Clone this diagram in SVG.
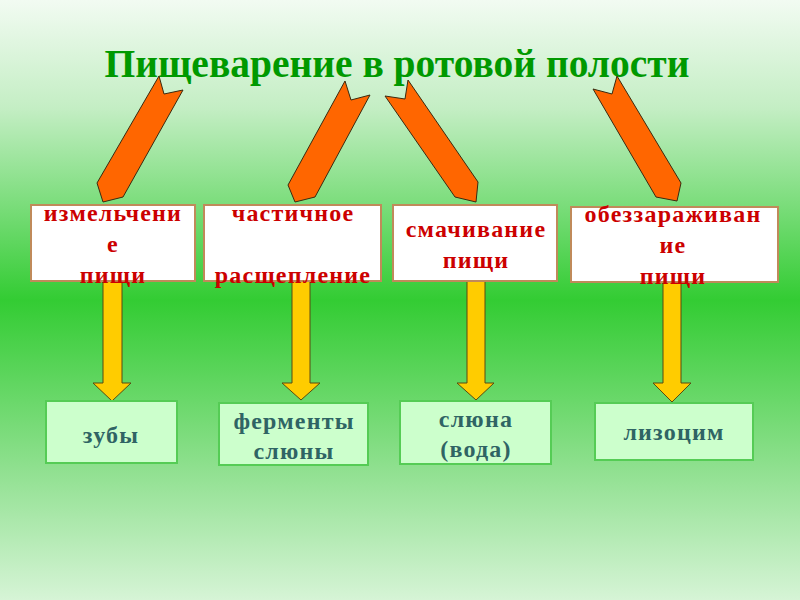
<svg xmlns="http://www.w3.org/2000/svg" width="800" height="600" viewBox="0 0 800 600">
<defs>
<linearGradient id="bg" x1="0" y1="0" x2="0" y2="1">
<stop offset="0" stop-color="#f2fbf2"/>
<stop offset="0.18" stop-color="#c4eec4"/>
<stop offset="0.5" stop-color="#33cc33"/>
<stop offset="0.78" stop-color="#8fe08f"/>
<stop offset="1" stop-color="#d6f4d6"/>
</linearGradient>
<style>
.title{font-family:"Liberation Serif","Times New Roman",serif;font-weight:bold;font-size:39.5px;fill:#009900;text-anchor:middle}
.orange{fill:#ff6600;stroke:#3a2a10;stroke-width:1}
.yellow{fill:#ffcc00;stroke:#5a4a10;stroke-width:1}
.wbox{fill:#ffffff;stroke:#c08a5a;stroke-width:2}
.gbox{fill:#ccffcc;stroke:#55cc55;stroke-width:2}
.rt{font-family:"Liberation Serif","Times New Roman",serif;font-weight:bold;font-size:24px;fill:#cc0000;text-anchor:middle;letter-spacing:1.2px}
.gt{font-family:"Liberation Serif","Times New Roman",serif;font-weight:bold;font-size:24px;fill:#2f6464;text-anchor:middle;letter-spacing:1.2px}
</style>
</defs>
<rect x="0" y="0" width="800" height="600" fill="url(#bg)"/>
<text class="title" x="397" y="77">Пищеварение в ротовой полости</text>

<g id="connectors">
<polygon class="orange" points="159,76 164,94 183,90 123,197 103,202 97,183"/>
<polygon class="orange" points="345,81 351,100 370,95 315,197 295,202 288,185"/>
<polygon class="orange" points="408,80 405,99 385,96 455,197 476,202 478,182"/>
<polygon class="orange" points="617,76 612,94 593,89 656,197 677,201 681,183"/>
<polygon class="yellow" points="103,281 122,281 122,383 131,383 112,401 93,383 103,383"/>
<polygon class="yellow" points="292,281 310,281 310,383 320,383 301,400 282,383 292,383"/>
<polygon class="yellow" points="467,281 485,281 485,383 494,383 476,400 457,383 467,383"/>
<polygon class="yellow" points="663,282 681,282 681,383 691,383 672,402 653,383 663,383"/>
</g>

<g id="n1">
<rect class="wbox" x="31" y="205" width="164" height="76"/>
<text class="rt" x="113" y="221">измельчени</text>
<text class="rt" x="113" y="252">е</text>
<text class="rt" x="113" y="283">пищи</text>
</g>
<g id="n2">
<rect class="wbox" x="204" y="205" width="177" height="76"/>
<text class="rt" x="293" y="221">частичное</text>
<text class="rt" x="293" y="283">расщепление</text>
</g>
<g id="n3">
<rect class="wbox" x="393" y="205" width="164" height="76"/>
<text class="rt" x="476" y="237">смачивание</text>
<text class="rt" x="476" y="268">пищи</text>
</g>
<g id="n4">
<rect class="wbox" x="571" y="207" width="207" height="75"/>
<text class="rt" x="673" y="222">обеззараживан</text>
<text class="rt" x="673" y="253">ие</text>
<text class="rt" x="673" y="284">пищи</text>
</g>

<g id="n5">
<rect class="gbox" x="46" y="401" width="131" height="62"/>
<text class="gt" x="111" y="443">зубы</text>
</g>
<g id="n6">
<rect class="gbox" x="219" y="403" width="149" height="62"/>
<text class="gt" x="294" y="429">ферменты</text>
<text class="gt" x="294" y="459">слюны</text>
</g>
<g id="n7">
<rect class="gbox" x="400" y="401" width="151" height="63"/>
<text class="gt" x="476" y="427">слюна</text>
<text class="gt" x="476" y="457">(вода)</text>
</g>
<g id="n8">
<rect class="gbox" x="595" y="403" width="158" height="57"/>
<text class="gt" x="674" y="440">лизоцим</text>
</g>
</svg>
